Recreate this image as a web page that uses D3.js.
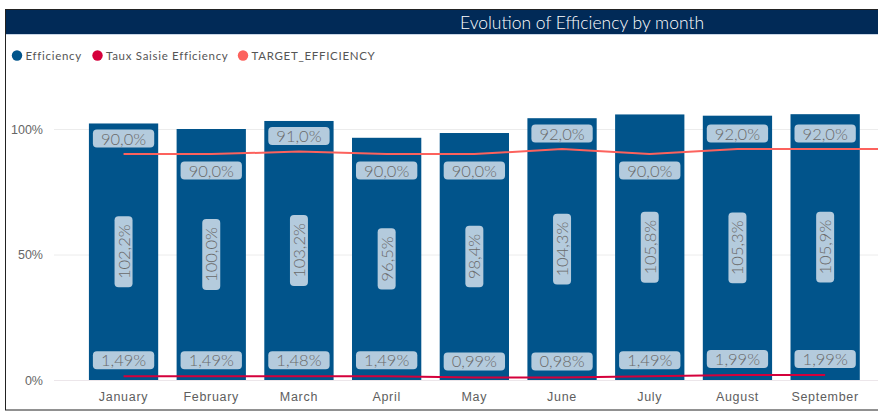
<!DOCTYPE html>
<html><head><meta charset="utf-8">
<script src="https://cdn.jsdelivr.net/npm/d3@7"></script>
<style>
html,body{margin:0;padding:0;background:#fff;}
svg{display:block;font-family:Lato,"Open Sans","Noto Sans",sans-serif;}
</style></head>
<body>
<svg id="chart" width="878" height="417"></svg>
<script>
// ---- data ----
const months = ["January","February","March","April","May","June","July","August","September","October"];
const visibleMonths = months.slice(0, 9);
const efficiency = [102.2, 100.0, 103.2, 96.5, 98.4, 104.3, 105.8, 105.3, 105.9, null];
const tauxSaisie = [1.49, 1.49, 1.48, 1.49, 0.99, 0.98, 1.49, 1.99, 1.99, null];
const target = [90.0, 90.0, 91.0, 90.0, 90.0, 92.0, 90.0, 92.0, 92.0, 92.0];
const targetLabelSide = ["above","below","above","below","below","above","below","above","above","above"];
const yTicks = [0, 50, 100];
const legendItems = ["Efficiency", "Taux Saisie Efficiency", "TARGET_EFFICIENCY"];
const title = "Evolution of Efficiency by month";

// ---- styles ----
const C_EFF = "#01548b", C_TAUX = "#d5003b", C_TGT = "#fc625d";
const LABEL_BG = "#b4cbdd", LABEL_TX = "#6a6a6a";
const LIGHT_FONT = "Lato, 'Open Sans', sans-serif";

const svg = d3.select("#chart");
const W = 878, H = 417;

const loc = d3.formatLocale({decimal: ",", thousands: ".", grouping: [3], currency: ["", "€"]});
const f1 = loc.format(".1f"), f2 = loc.format(".2f");

// scales
const x = d3.scaleBand().domain(months).range([79.7, 79.7 + 87.7 * months.length]).paddingInner(0.21).paddingOuter(0.105);
const y = d3.scaleLinear().domain([0, 100]).range([380, 129]);

// frame
svg.append("rect").attr("x", 5.5).attr("y", 9.5).attr("width", 880).attr("height", 400.5)
  .attr("fill", "none").attr("stroke", "#222").attr("stroke-width", 1);
// title bar
svg.append("rect").attr("x", 6).attr("y", 10).attr("width", W - 6).attr("height", 24).attr("fill", "#012a57");
svg.append("line").attr("x1", 6).attr("x2", W).attr("y1", 34.5).attr("y2", 34.5).attr("stroke", "#c9d6e6");
svg.append("text").attr("x", 460).attr("y", 28.5).attr("fill", "#fff").attr("font-family", LIGHT_FONT)
  .attr("font-size", 17.5).attr("font-weight", 300).text(title);

// legend
const legendColors = [C_EFF, C_TAUX, C_TGT];
const legendX = [17, 97.5, 243];
legendItems.forEach((t, i) => {
  svg.append("circle").attr("cx", legendX[i]).attr("cy", 55.5).attr("r", 5.2).attr("fill", legendColors[i]);
  svg.append("text").attr("x", legendX[i] + 8.5).attr("y", 59.5).attr("fill", "#555")
    .attr("font-size", 11.5).attr("letter-spacing", 0.7).text(t);
});

// gridlines + y axis
yTicks.forEach(t => {
  svg.append("line").attr("x1", 54).attr("x2", W).attr("y1", y(t) + 0.5).attr("y2", y(t) + 0.5)
    .attr("stroke", t === 0 ? "#ece6ea" : "#ececec").attr("stroke-width", 1);
});
const yAxis = d3.axisLeft(y).tickValues(yTicks).tickFormat(d => d + "%").tickSize(0).tickPadding(0);
const ya = svg.append("g").attr("transform", "translate(43,0)").call(yAxis);
ya.select(".domain").remove();
ya.selectAll("text").attr("fill", "#666").attr("font-size", 12.5).attr("font-family", "inherit").attr("dy", "0.35em");

// x axis
const xAxis = d3.axisBottom(x).tickValues(visibleMonths).tickSize(0).tickPadding(0);
const xa = svg.append("g").attr("transform", "translate(0,392)").call(xAxis);
xa.select(".domain").remove();
xa.selectAll("text").attr("fill", "#5e5e5e").attr("font-size", 12.5).attr("letter-spacing", 0.7)
  .attr("font-family", "inherit").attr("dy", "0.71em");

// bars
const idx = d3.range(months.length);
svg.append("g").selectAll("rect").data(idx.filter(i => efficiency[i] != null)).join("rect")
  .attr("x", i => x(months[i])).attr("width", x.bandwidth())
  .attr("y", i => y(efficiency[i])).attr("height", i => y(0) - y(efficiency[i]))
  .attr("fill", C_EFF);

// lines
const cx = i => x(months[i]) + x.bandwidth() / 2;
const tgtLine = d3.line().x(i => cx(i)).y(i => y(target[i]));
svg.append("path").datum(idx.filter(i => target[i] != null)).attr("d", tgtLine)
  .attr("fill", "none").attr("stroke", C_TGT).attr("stroke-width", 2);
const tauxLine = d3.line().x(i => cx(i)).y(i => y(tauxSaisie[i]));
svg.append("path").datum(idx.filter(i => tauxSaisie[i] != null)).attr("d", tauxLine)
  .attr("fill", "none").attr("stroke", C_TAUX).attr("stroke-width", 2);

// labels
function label(cxp, cyp, txt, rotate) {
  const g = svg.append("g").attr("transform", `translate(${cxp},${cyp})` + (rotate ? " rotate(-90)" : ""));
  const r = g.append("rect").attr("fill", LABEL_BG).attr("rx", 4).attr("ry", 4);
  const t = g.append("text").attr("text-anchor", "middle").attr("dy", "0.36em")
    .attr("fill", LABEL_TX).attr("font-size", 16.5).attr("font-family", LIGHT_FONT).attr("font-weight", 300).text(txt);
  const bb = t.node().getBBox();
  const w = bb.width + 16, h = 18;
  r.attr("x", -w / 2).attr("y", -h / 2).attr("width", w).attr("height", h);
}
idx.forEach(i => {
  if (efficiency[i] == null) return;
  label(cx(i), (y(efficiency[i]) + y(0)) / 2, f1(efficiency[i]) + "%", true);
  const off = targetLabelSide[i] === "above" ? -15.5 : 16.5;
  label(cx(i), y(target[i]) + off, f1(target[i]) + "%", false);
  label(cx(i), y(tauxSaisie[i]) - 16, f2(tauxSaisie[i]) + "%", false);
});
</script>
</body></html>
